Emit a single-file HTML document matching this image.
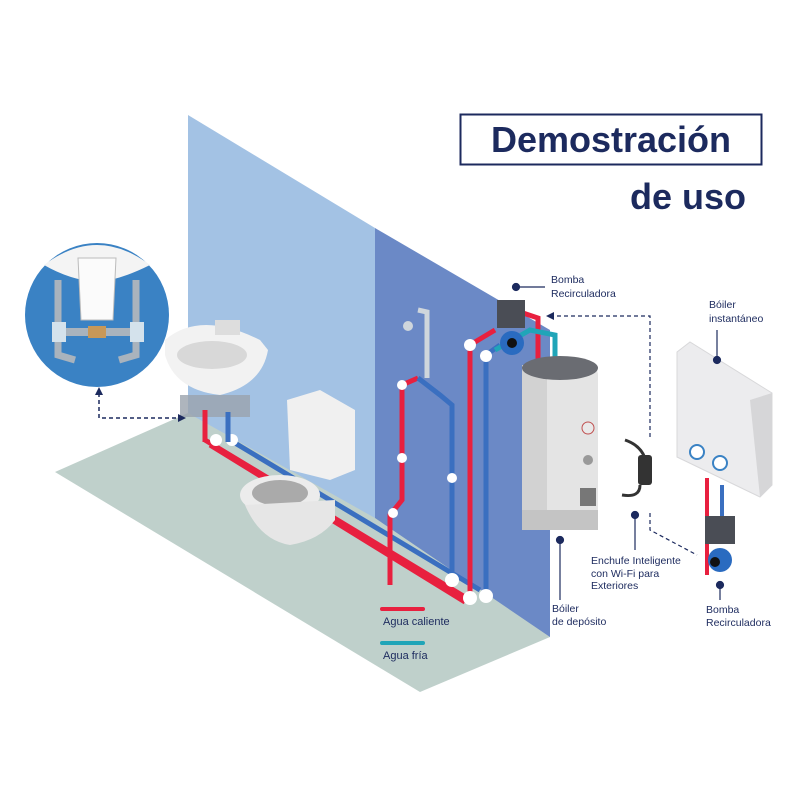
<!DOCTYPE html>
<html><head><meta charset="utf-8"><style>
html,body{margin:0;padding:0;background:#fff}
svg{display:block}
text{font-family:"Liberation Sans",sans-serif;fill:#1c2a5e}
</style></head><body>
<svg width="800" height="800" viewBox="0 0 800 800" xmlns="http://www.w3.org/2000/svg">
<rect width="800" height="800" fill="#fff"/>
<polygon points="55,472 188,413 550,600 550,637 420,692" fill="#bfd0cb"/>
<polygon points="188,115 375,228 375,518 188,413" fill="#a3c2e4"/>
<polygon points="375,228 550,330 550,637 375,518" fill="#6b89c6"/>
<line x1="205" y1="440" x2="470" y2="600" stroke="#e8203f" stroke-width="5"/>
<line x1="230" y1="440" x2="480" y2="590" stroke="#3a6fc0" stroke-width="5"/>
<line x1="210" y1="445" x2="465" y2="602" stroke="#e8203f" stroke-width="5"/>
<polyline points="390,585 390,515 402,500 402,385 418,378" fill="none" stroke="#e8203f" stroke-width="5"/>
<polyline points="418,378 440,395 452,405 452,580" fill="none" stroke="#3a6fc0" stroke-width="5"/>
<polyline points="427,378 427,312 418,310" fill="none" stroke="#cfd6dc" stroke-width="5"/>
<circle cx="408" cy="326" r="5" fill="#cfd6dc"/>
<polyline points="470,600 470,345 495,330" fill="none" stroke="#e8203f" stroke-width="5"/>
<polyline points="486,600 486,355 500,345" fill="none" stroke="#3a6fc0" stroke-width="5"/>
<g fill="#fff"><circle cx="402" cy="385" r="5"/><circle cx="402" cy="458" r="5"/><circle cx="452" cy="478" r="5"/><circle cx="393" cy="513" r="5"/><circle cx="470" cy="345" r="6"/><circle cx="486" cy="356" r="6"/><circle cx="452" cy="580" r="7"/><circle cx="470" cy="598" r="7"/><circle cx="486" cy="596" r="7"/><circle cx="216" cy="440" r="6"/><circle cx="232" cy="440" r="6"/></g>
<polyline points="520,312 538,318 538,365" fill="none" stroke="#e8203f" stroke-width="5"/>
<polyline points="495,350 530,330 555,335 555,365" fill="none" stroke="#20a5b8" stroke-width="5"/>
<rect x="497" y="300" width="28" height="28" fill="#4a4d55"/>
<circle cx="512" cy="343" r="12" fill="#2a6bc0"/><circle cx="512" cy="343" r="5" fill="#111"/>
<rect x="522" y="365" width="76" height="165" rx="10" fill="#e4e4e4"/>
<rect x="522" y="365" width="25" height="165" fill="#d2d2d2"/>
<ellipse cx="560" cy="368" rx="38" ry="12" fill="#6a6c72"/>
<rect x="522" y="510" width="76" height="20" fill="#c4c4c4"/>
<circle cx="588" cy="428" r="6" fill="#e9e9e9" stroke="#c05050"/>
<circle cx="588" cy="460" r="5" fill="#999"/>
<rect x="580" y="488" width="16" height="18" fill="#777"/>
<path d="M165,340 Q200,310 260,340 L268,350 Q262,385 220,395 Q175,390 165,355 Z" fill="#f2f2f2"/>
<ellipse cx="212" cy="355" rx="35" ry="14" fill="#d8d8d8"/>
<rect x="215" y="320" width="25" height="15" fill="#ddd"/>
<rect x="180" y="395" width="70" height="22" fill="#9aa3ad" opacity="0.8"/>
<line x1="205" y1="410" x2="205" y2="442" stroke="#e8203f" stroke-width="5"/>
<line x1="228" y1="412" x2="228" y2="442" stroke="#3a6fc0" stroke-width="5"/>
<path d="M287,400 L320,390 L355,410 L355,470 L330,480 L290,470 Z" fill="#f0f0f0"/>
<ellipse cx="280" cy="495" rx="40" ry="20" fill="#ececec"/>
<ellipse cx="280" cy="493" rx="28" ry="13" fill="#aaa"/>
<path d="M245,505 Q260,540 290,545 Q320,540 335,520 L335,500 Z" fill="#e6e6e6"/>
<circle cx="97" cy="315" r="72" fill="#3a82c4"/>
<path d="M44,265 Q97,225 150,265 Q120,280 97,282 Q70,280 44,265Z" fill="#f4f4f4"/>
<path d="M78,258 L116,258 L113,320 L81,320 Z" fill="#fbfbfb" stroke="#bbb"/>
<path d="M58,280 L58,355 L75,360 M136,280 L136,355 L119,360" fill="none" stroke="#a9b3bd" stroke-width="7"/>
<rect x="60" y="328" width="76" height="8" fill="#a9b3bd"/>
<rect x="88" y="326" width="18" height="12" fill="#c89858"/>
<rect x="52" y="322" width="14" height="20" fill="#d4e2ec"/><rect x="130" y="322" width="14" height="20" fill="#d4e2ec"/>
<polyline points="99,393 99,418 180,418" fill="none" stroke="#1c2a5e" stroke-width="1.5" stroke-dasharray="4,3"/>
<polygon points="99,387 95,395 103,395" fill="#1c2a5e"/><polygon points="186,418 178,414 178,422" fill="#1c2a5e"/>
<rect x="638" y="455" width="14" height="30" rx="3" fill="#333"/>
<path d="M625,440 Q640,445 645,458 M640,485 Q640,498 622,495" fill="none" stroke="#333" stroke-width="3"/>
<polyline points="550,316 650,316 650,440" fill="none" stroke="#1c2a5e" stroke-width="1.2" stroke-dasharray="4,3"/>
<polygon points="546,316 554,312 554,320" fill="#1c2a5e"/>
<polyline points="650,513 650,530 697,555" fill="none" stroke="#1c2a5e" stroke-width="1.2" stroke-dasharray="4,3"/>
<path d="M677,352 L690,342 L772,393 L772,485 L760,497 L677,457 Z" fill="#ececee" stroke="#d8d8da"/>
<path d="M750,400 L772,393 L772,485 L760,497 Z" fill="#d6d6d8"/>
<circle cx="697" cy="452" r="7" fill="#fff" stroke="#3a82c4" stroke-width="2"/>
<circle cx="720" cy="463" r="7" fill="#fff" stroke="#3a82c4" stroke-width="2"/>
<line x1="707" y1="478" x2="707" y2="575" stroke="#e8203f" stroke-width="4"/>
<line x1="722" y1="485" x2="722" y2="520" stroke="#3a6fc0" stroke-width="4"/>
<rect x="705" y="516" width="30" height="28" fill="#4a4d55"/>
<circle cx="720" cy="560" r="12" fill="#2a6bc0"/><circle cx="715" cy="562" r="5" fill="#111"/>
<g stroke="#1c2a5e" stroke-width="1.2" fill="#1c2a5e">
<line x1="516" y1="287" x2="545" y2="287"/><circle cx="516" cy="287" r="3.5"/>
<line x1="717" y1="330" x2="717" y2="358"/><circle cx="717" cy="360" r="3.5"/>
<line x1="560" y1="540" x2="560" y2="600"/><circle cx="560" cy="540" r="3.5"/>
<line x1="635" y1="515" x2="635" y2="550"/><circle cx="635" cy="515" r="3.5"/>
<line x1="720" y1="585" x2="720" y2="600"/><circle cx="720" cy="585" r="3.5"/>
</g>
<line x1="382" y1="609" x2="423" y2="609" stroke="#e8203f" stroke-width="4" stroke-linecap="round"/>
<line x1="382" y1="643" x2="423" y2="643" stroke="#20a5b8" stroke-width="4" stroke-linecap="round"/>
<text x="383" y="625" font-size="11">Agua caliente</text>
<text x="383" y="659" font-size="11">Agua fría</text>
<g font-size="10.5">
<text x="551" y="283">Bomba</text><text x="551" y="297">Recirculadora</text>
<text x="709" y="308">Bóiler</text><text x="709" y="322">instantáneo</text>
<text x="552" y="612">Bóiler</text><text x="552" y="625">de depósito</text>
<text x="591" y="564">Enchufe Inteligente</text><text x="591" y="577">con Wi-Fi para</text><text x="591" y="589">Exteriores</text>
<text x="706" y="613">Bomba</text><text x="706" y="626">Recirculadora</text>
</g>
<rect x="460.5" y="114.5" width="301" height="50" fill="none" stroke="#1c2a5e" stroke-width="2"/>
<text x="611" y="152" font-size="36" font-weight="bold" text-anchor="middle">Demostración</text>
<text x="746" y="209" font-size="36" font-weight="bold" text-anchor="end">de uso</text>
</svg>
</body></html>
